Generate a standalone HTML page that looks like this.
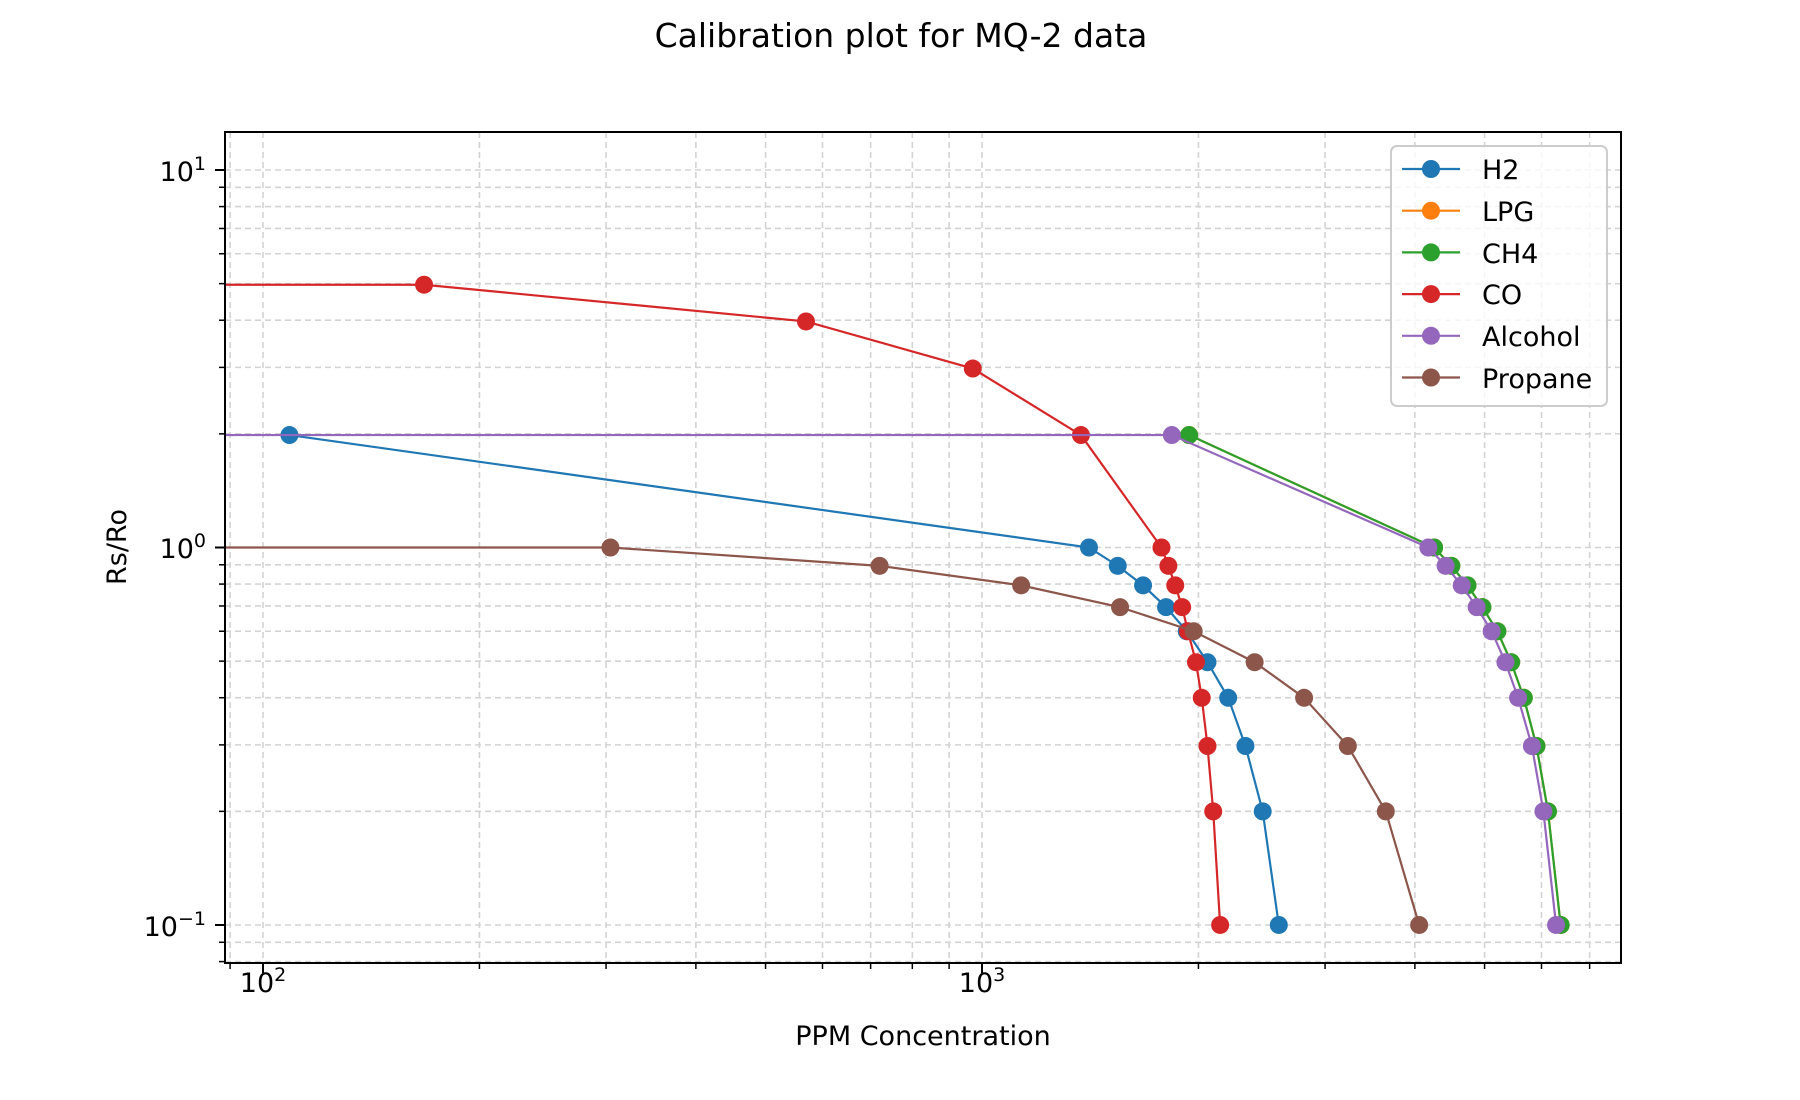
<!DOCTYPE html>
<html><head><meta charset="utf-8"><style>
html,body{margin:0;padding:0;background:#fff;}
svg{display:block;font-family:"DejaVu Sans","Liberation Sans",sans-serif;}
</style></head><body>
<svg id="s" width="1800" height="1100" xmlns="http://www.w3.org/2000/svg">
<defs><clipPath id="c"><rect x="225" y="132" width="1396" height="831"/></clipPath></defs>
<g id="grid" clip-path="url(#c)"></g>
<g id="data" clip-path="url(#c)"></g>
<rect x="225" y="132" width="1396" height="831" fill="none" stroke="#000" stroke-width="2"/>
<g id="ticks"></g>
<text x="901" y="47" font-size="33" text-anchor="middle">Calibration plot for MQ-2 data</text>
<text x="923" y="1045" font-size="27" text-anchor="middle">PPM Concentration</text>
<text transform="translate(126,547) rotate(-90)" font-size="27" text-anchor="middle">Rs/Ro</text>
<text x="263" y="992" font-size="27" text-anchor="middle">10<tspan dy="-11" font-size="19">2</tspan></text>
<text x="982" y="992" font-size="27" text-anchor="middle">10<tspan dy="-11" font-size="19">3</tspan></text>
<text x="206" y="181" font-size="27" text-anchor="end">10<tspan dy="-11" font-size="19">1</tspan></text>
<text x="206" y="558" font-size="27" text-anchor="end">10<tspan dy="-11" font-size="19">0</tspan></text>
<text x="206" y="936" font-size="27" text-anchor="end">10<tspan dy="-11" font-size="19">−1</tspan></text>
<rect x="1391" y="146" width="216" height="260" rx="6" fill="#fff" fill-opacity="0.8" stroke="#ccc" stroke-width="2"/>
<g id="leg"></g>
<g font-size="27">
<text x="1482" y="179">H2</text>
<text x="1482" y="221">LPG</text>
<text x="1482" y="263">CH4</text>
<text x="1482" y="304">CO</text>
<text x="1482" y="346">Alcohol</text>
<text x="1482" y="388">Propane</text>
</g>
</svg>
<script>
var NS="http://www.w3.org/2000/svg";
function el(p,t,a){var e=document.createElementNS(NS,t);for(var k in a)e.setAttribute(k,a[k]);document.getElementById(p).appendChild(e);return e;}
function X(v){return 263+719*(Math.log10(v)-2);}
function Y(v){return 547.5-377.5*Math.log10(v);}
var xs=[],ys=[];
for(var d=10;d<=1000;d*=10)for(var m=1;m<10;m++)xs.push([d*m,m==1]);
for(var d=0.01;d<=10;d*=10)for(var m=1;m<10;m++)ys.push([d*m,m==1]);
xs.forEach(function(p){var x=X(p[0]);if(x<225||x>1621)return;
 el("grid","line",{x1:x,x2:x,y1:132,y2:963,stroke:"#d3d3d3","stroke-width":1.6,"stroke-dasharray":"6,4"});
 el("ticks","line",{x1:x,x2:x,y1:963,y2:963+(p[1]?10:6),stroke:"#000","stroke-width":p[1]?2:1.5});});
ys.forEach(function(p){var y=Y(p[0]);if(y<132||y>963)return;
 el("grid","line",{x1:225,x2:1621,y1:y,y2:y,stroke:"#d3d3d3","stroke-width":1.6,"stroke-dasharray":"6,4"});
 el("ticks","line",{x1:225,x2:225-(p[1]?10:6),y1:y,y2:y,stroke:"#000","stroke-width":p[1]?2:1.5});});
function D(x,y){return [263+(x-228)*1.1504,547.5+(y-476)*1.1474];}
var S=[
["#ff7f0e",[[1033,378],[1246,476],[1261,492],[1275,509],[1288,528],[1301,549],[1313,576],[1324,607],[1335,649],[1345,706],[1356,805]],false],
["#2ca02c",[[1033,378],[1246,476],[1261,492],[1275,509],[1288,528],[1301,549],[1313,576],[1324,607],[1335,649],[1345,706],[1356,805]],false],
["#1f77b4",[[251,378],[946,476],[971,492],[993,509],[1013,528],[1031,549],[1049,576],[1067,607],[1082,649],[1097,706],[1111,805]],false],
["#d62728",[[368,247],[700,279],[845,320],[939,378],[1009,476],[1015,492],[1021,509],[1027,528],[1032,549],[1039,576],[1044,607],[1049,649],[1054,706],[1060,805]],true],
["#9467bd",[[1018,378],[1241,476],[1256,492],[1270,509],[1283,528],[1296,549],[1308,576],[1319,607],[1331,649],[1341,706],[1352,805]],true],
["#8c564b",[[530,476],[764,492],[887,509],[973,528],[1037,549],[1090,576],[1133,607],[1171,649],[1204,706],[1233,805]],true]];
S.forEach(function(s){var pts=s[1].map(function(p){return D(p[0],p[1]);});
 if(s[2])pts.unshift([150,pts[0][1]]);
 el("data","polyline",{points:pts.map(function(p){return p.join(",");}).join(" "),fill:"none",stroke:s[0],"stroke-width":2.2});
 pts.forEach(function(p,i){if(s[2]&&i==0)return;el("data","circle",{cx:p[0],cy:p[1],r:9,fill:s[0]});});});
["#1f77b4","#ff7f0e","#2ca02c","#d62728","#9467bd","#8c564b"].forEach(function(c,i){var y=169+41.7*i;
 el("leg","line",{x1:1402,x2:1460,y1:y,y2:y,stroke:c,"stroke-width":2.2});
 el("leg","circle",{cx:1431,cy:y,r:9,fill:c});});
</script>
</body></html>
